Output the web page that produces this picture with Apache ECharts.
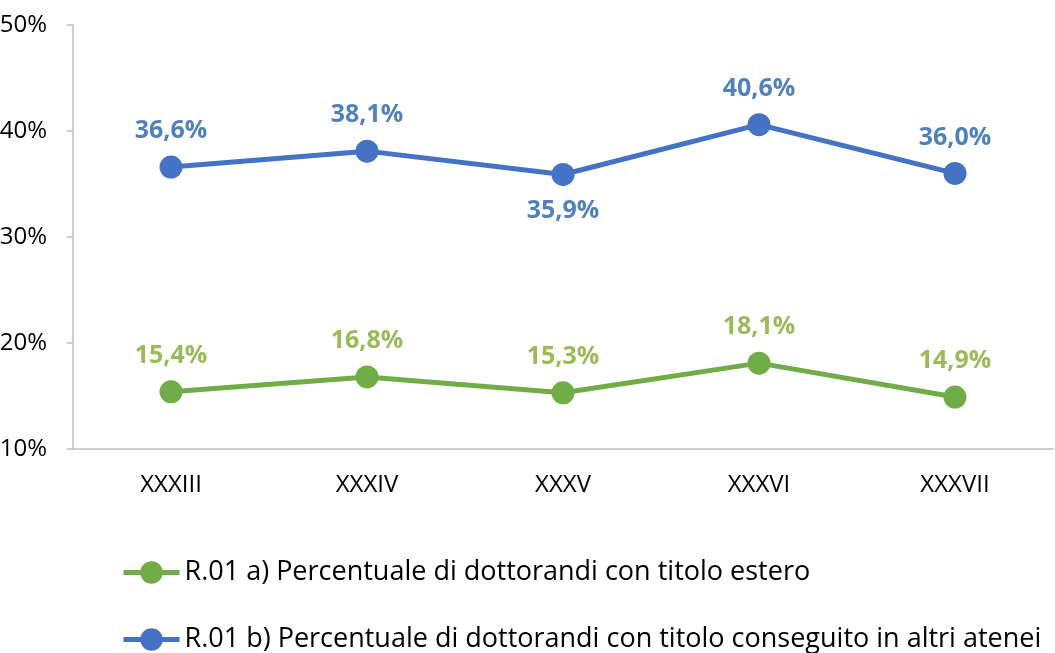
<!DOCTYPE html>
<html>
<head>
<meta charset="utf-8">
<script src="https://cdn.jsdelivr.net/npm/echarts@6/dist/echarts.min.js"></script>
<style>
  html, body { margin: 0; padding: 0; background: #fff; }
  #chart { width: 1055px; height: 653px; }
</style>
</head>
<body>
<div id="chart"></div>
<script>
const categories = ['XXXIII', 'XXXIV', 'XXXV', 'XXXVI', 'XXXVII']
const esteroValues = [15.4, 16.8, 15.3, 18.1, 14.9]
const ateneiValues = [36.6, 38.1, 35.9, 40.6, 36.0]
const ateneiLabelPos = ['top', 'top', 'bottom', 'top', 'top']
const seriesNames = [
  'R.01 a) Percentuale di dottorandi con titolo estero',
  'R.01 b) Percentuale di dottorandi con titolo conseguito in altri atenei'
]

const font = '"Open Sans", sans-serif'
const fmt = v => v.toFixed(1).replace('.', ',') + '%'

const chart = echarts.init(document.getElementById('chart'))

function lineSeries(name, values, color, labelColor, positions) {
  return {
    name,
    type: 'line',
    data: values.map((v, i) => ({
      value: v,
      label: { position: positions ? positions[i] : 'top' }
    })),
    symbol: 'circle',
    symbolSize: 23,
    lineStyle: { color, width: 5 },
    itemStyle: { color },
    label: {
      show: true,
      distance: 12,
      color: labelColor,
      fontFamily: font,
      fontWeight: 'bold',
      fontSize: 25,
      formatter: p => fmt(p.value)
    },
    emphasis: { disabled: true },
    animation: false
  }
}

// one legend per row so each line sits where it should
function legendRow(name, top) {
  return {
    orient: 'horizontal',
    left: 116,
    top,
    itemWidth: 56,
    itemHeight: 28,
    lineStyle: { width: 5 },
    textStyle: { color: '#000', fontFamily: font, fontSize: 27 },
    data: [name]
  }
}

chart.setOption({
  grid: { left: 73, right: 2, top: 25, bottom: 204, outerBoundsMode: 'none' },
  xAxis: {
    type: 'category',
    data: categories,
    boundaryGap: true,
    axisLine: { lineStyle: { color: '#BFBFBF', width: 1.5 } },
    axisTick: { length: 6, lineStyle: { color: '#BFBFBF', width: 1.5 } },
    axisLabel: { margin: 24, color: '#000', fontFamily: font, fontSize: 24 }
  },
  yAxis: {
    type: 'value',
    min: 10,
    max: 50,
    interval: 10,
    axisLine: { show: true, lineStyle: { color: '#BFBFBF', width: 1.5 } },
    axisTick: { show: true, length: 6, lineStyle: { color: '#BFBFBF', width: 1.5 } },
    splitLine: { show: false },
    axisLabel: { margin: 26, color: '#000', fontFamily: font, fontSize: 24, formatter: '{value}%' }
  },
  legend: [
    legendRow(seriesNames[0], 554),
    legendRow(seriesNames[1], 621)
  ],
  series: [
    lineSeries(seriesNames[0], esteroValues, '#70AD47', '#9BBB59'),
    lineSeries(seriesNames[1], ateneiValues, '#4472C4', '#4F81BD', ateneiLabelPos)
  ]
})

window.addEventListener('resize', () => chart.resize())
</script>
</body>
</html>
